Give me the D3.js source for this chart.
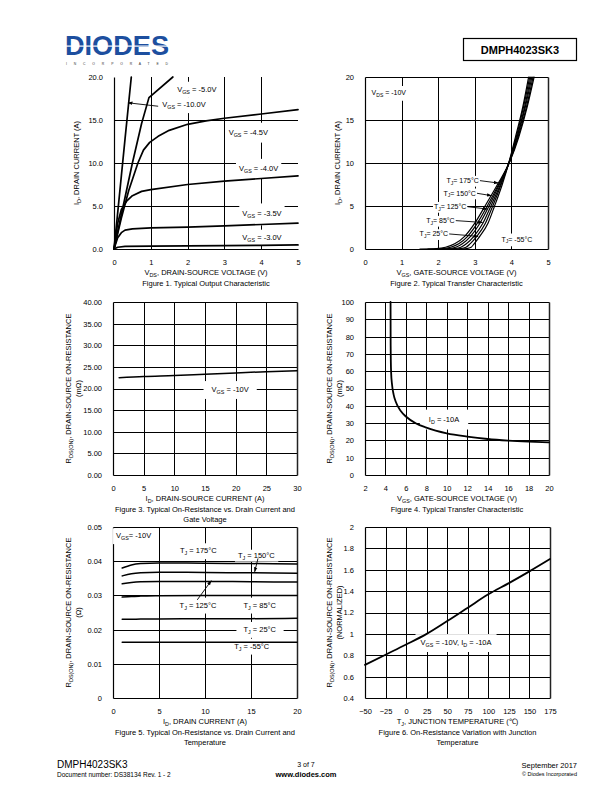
<!DOCTYPE html>
<html><head><meta charset="utf-8">
<script src="https://cdn.jsdelivr.net/npm/d3@7"></script>
<style>body{margin:0;background:#fff}svg{display:block}</style>
</head><body>
<script>
// ---------------- DATA ----------------
// Figure 1: Typical Output Characteristic  [VDS (V), ID (A)]
const fig1Vgs10 = [[0,0],[0.1,4.2],[0.2,8.5],[0.3,12.8],[0.47,20]];
const fig1Vgs50 = [[0,0],[0.25,5],[0.5,10],[0.75,14.6],[0.95,17.6],[1.6,20]];
const fig1Vgs45 = [[0,0],[0.2,3.6],[0.4,6.8],[0.65,10],[0.8,11.5],[0.97,12.4],[1.2,13.1],[1.5,13.8],[2,14.5],[2.5,14.9],[3,15.2],[4,15.7],[5,16.2]];
const fig1Vgs40 = [[0,0],[0.1,3],[0.2,4.6],[0.35,5.6],[0.5,6.2],[0.75,6.7],[1,6.9],[2,7.5],[3,7.9],[4,8.2],[5,8.5]];
const fig1Vgs35 = [[0,0],[0.1,1.3],[0.2,1.9],[0.3,2.2],[0.5,2.35],[1,2.45],[2,2.55],[3,2.7],[4,2.85],[5,3.0]];
const fig1Vgs30 = [[0,0],[0.1,0.2],[0.3,0.3],[1,0.33],[2,0.37],[3,0.4],[4,0.43],[5,0.47]];

// Figure 2: Typical Transfer Characteristic  ID levels (A) and VGS (V) per temperature
const fig2Id    = [0, 0.05, 0.2, 0.6, 1.5, 3, 5, 7.5, 10.2, 13, 16.5, 20];
const fig2T175  = [1.50, 1.95, 2.20, 2.45, 2.73, 3.00, 3.28, 3.62, 3.960, 4.20, 4.43, 4.62];
const fig2T150  = [1.72, 2.12, 2.34, 2.56, 2.81, 3.07, 3.34, 3.65, 3.955, 4.18, 4.41, 4.59];
const fig2T125  = [1.94, 2.28, 2.48, 2.66, 2.89, 3.14, 3.39, 3.67, 3.950, 4.16, 4.38, 4.56];
const fig2T85   = [2.16, 2.45, 2.62, 2.77, 2.98, 3.22, 3.44, 3.70, 3.950, 4.15, 4.36, 4.53];
const fig2T25   = [2.38, 2.61, 2.76, 2.87, 3.06, 3.29, 3.49, 3.72, 3.945, 4.13, 4.33, 4.50];
const fig2Tm55  = [2.60, 2.78, 2.90, 2.98, 3.14, 3.36, 3.54, 3.75, 3.940, 4.11, 4.31, 4.47];

// Figure 3: RDS(ON) (mOhm) vs ID (A)
const fig3Id   = [1, 5, 10, 15, 20, 25, 30];
const fig3Rds  = [22.5, 22.8, 23.0, 23.3, 23.6, 23.9, 24.1];

// Figure 4: RDS(ON) (mOhm) vs VGS (V)
const fig4Vgs  = [4.5, 4.51, 4.55, 4.65, 4.8, 5, 5.5, 6, 7, 8, 10, 12, 14, 16, 18, 20];
const fig4Rds  = [100, 75, 60, 52, 46.5, 42.5, 37, 33.8, 29.8, 27.4, 24.1, 22.2, 20.8, 19.9, 19.3, 18.9];

// Figure 5: RDS(ON) (Ohm) vs ID (A) per temperature
const fig5Id    = [1, 2, 3, 5, 10, 15, 20];
const fig5T175  = [0.0380, 0.0389, 0.0393, 0.0395, 0.0394, 0.0393, 0.0392];
const fig5T150  = [0.0357, 0.0363, 0.0366, 0.0368, 0.0367, 0.0366, 0.0365];
const fig5T125  = [0.0334, 0.0338, 0.0340, 0.0341, 0.0341, 0.0340, 0.0339];
const fig5T85   = [0.0295, 0.0297, 0.0298, 0.0299, 0.0300, 0.0300, 0.0300];
const fig5T25   = [0.0230, 0.0230, 0.0231, 0.0231, 0.0232, 0.0232, 0.0233];
const fig5Tm55  = [0.0163, 0.0163, 0.0163, 0.0163, 0.0163, 0.0163, 0.0163];

// Figure 6: normalized RDS(ON) vs TJ
const fig6Tj   = [-50, -25, 0, 25, 50, 75, 100, 125, 150, 175];
const fig6Rn   = [0.71, 0.805, 0.90, 1.0, 1.12, 1.245, 1.37, 1.475, 1.585, 1.70];

// Tick values
const fig1XTicks = [0,1,2,3,4,5],  fig1YTicks = [0,5,10,15,20];
const fig2XTicks = [0,1,2,3,4,5],  fig2YTicks = [0,5,10,15,20];
const fig3XTicks = [0,5,10,15,20,25,30], fig3YTicks = [0,5,10,15,20,25,30,35,40];
const fig4XTicks = [2,4,6,8,10,12,14,16,18,20], fig4YTicks = [0,10,20,30,40,50,60,70,80,90,100];
const fig5XTicks = [0,5,10,15,20], fig5YTicks = [0,0.01,0.02,0.03,0.04,0.05];
const fig6XTicks = [-50,-25,0,25,50,75,100,125,150,175], fig6YTicks = [0.4,0.6,0.8,1,1.2,1.4,1.6,1.8,2];

// ---------------- DRAWING ----------------
const FONT = '"Liberation Sans", Arial, Helvetica, sans-serif';
const svg = d3.select('body').append('svg').attr('width',612).attr('height',792);
svg.append('rect').attr('width',612).attr('height',792).attr('fill','#fff');
svg.append('defs').append('marker').attr('id','arr').attr('viewBox','0 0 10 10')
  .attr('refX',9).attr('refY',5).attr('markerWidth',5).attr('markerHeight',5)
  .attr('markerUnits','userSpaceOnUse').attr('orient','auto')
  .append('path').attr('d','M0,1.5L10,5L0,8.5Z').attr('fill','#000');

function rich(text, str, fs){
  const parts = str.split(/(_\{[^}]*\})/);
  let shifted = false;
  parts.forEach(p=>{
    if(!p) return;
    const m = p.match(/^_\{(.*)\}$/);
    if(m){
      text.append('tspan').attr('font-size',fs*0.72).attr('dy',fs*0.25).text(m[1]);
      shifted = true;
    } else {
      const t = text.append('tspan').text(p);
      if(shifted){ t.attr('dy',-fs*0.25); shifted=false; }
    }
  });
  return text;
}

function chart(o){
  const x = d3.scaleLinear().domain(o.xd).range([o.x0,o.x1]);
  const y = d3.scaleLinear().domain(o.yd).range([o.yBot,o.yTop]);
  const px = v => Math.round(x(v))+0.5, py = v => Math.round(y(v))+0.5;
  const g = svg.append('g');
  const gGrid = g.append('g'), gBox = g.append('g'), gCurve = g.append('g'), gText = g.append('g');
  const fs = o.fs || 7.5;
  // grid
  gGrid.selectAll('line.v').data(o.xTicks.filter(t=>t>o.xd[0]&&t<o.xd[1])).join('line')
    .attr('x1',px).attr('x2',px).attr('y1',o.yBot).attr('y2',o.yTop).attr('stroke','#000').attr('stroke-width',1);
  gGrid.selectAll('line.h').data(o.yTicks.filter(t=>t>o.yd[0]&&t<o.yd[1])).join('line')
    .attr('y1',py).attr('y2',py).attr('x1',o.x0).attr('x2',o.x1).attr('stroke','#000').attr('stroke-width',1);
  // frame
  const L = px(o.xd[0]), R = px(o.xd[1]), B = py(o.yd[0]), T = py(o.yd[1]);
  gGrid.append('line').attr('x1',L).attr('x2',L).attr('y1',B).attr('y2',T).attr('stroke','#000').attr('stroke-width',1.2);
  gGrid.append('line').attr('x1',L).attr('x2',R).attr('y1',B).attr('y2',B).attr('stroke','#000').attr('stroke-width',1.2);
  if(o.box){
    gGrid.append('line').attr('x1',L).attr('x2',R).attr('y1',T).attr('y2',T).attr('stroke','#000').attr('stroke-width',1.2);
    gGrid.append('line').attr('x1',R).attr('x2',R).attr('y1',B).attr('y2',T).attr('stroke','#222').attr('stroke-width',1.5);
  }
  // axes
  const ax = g.append('g').attr('transform',`translate(0,${o.yBot})`)
    .call(d3.axisBottom(x).tickValues(o.xTicks).tickSize(0).tickPadding(10.4).tickFormat(o.xf));
  ax.select('.domain').remove();
  ax.selectAll('text').attr('font-size',fs).attr('font-family',FONT).attr('fill','#000');
  const ay = g.append('g').attr('transform',`translate(${o.x0},0)`)
    .call(d3.axisLeft(y).tickValues(o.yTicks).tickSize(0).tickPadding(11).tickFormat(o.yf));
  ay.select('.domain').remove();
  ay.selectAll('text').attr('font-size',fs).attr('font-family',FONT).attr('fill','#000');
  // titles
  const cx = (o.x0+o.x1)/2, cy = (o.yBot+o.yTop)/2;
  rich(g.append('text').attr('x',cx).attr('y',o.yBot+25.7).attr('text-anchor','middle')
    .attr('font-family',FONT).attr('font-size',fs), o.xTitle, fs);
  o.caption.forEach((c,i)=>{
    g.append('text').attr('x',cx).attr('y',o.yBot+36.7+i*10).attr('text-anchor','middle')
      .attr('font-family',FONT).attr('font-size',fs).text(c);
  });
  o.yTitles.forEach(t=>{
    rich(g.append('text').attr('transform',`translate(${t.x+2.7},${cy}) rotate(-90)`).attr('text-anchor','middle')
      .attr('font-family',FONT).attr('font-size',t.fs||fs), t.s, t.fs||fs);
  });
  // curves
  const line = d3.line().x(d=>x(d[0])).y(d=>y(d[1])).curve(o.curve || d3.curveMonotoneX);
  o.series.forEach(s=>{
    gCurve.append('path').attr('d',line(s)).attr('fill','none').attr('stroke','#000')
      .attr('stroke-width',o.sw||1.6).attr('stroke-linejoin','round').attr('stroke-linecap','round');
  });
  // labels
  const lfs = o.lfs || fs;
  (o.labels||[]).forEach(l=>{
    const t = gText.append('text').attr('x',x(l.x)).attr('y',y(l.y)+lfs*0.36)
      .attr('text-anchor',l.anchor||'middle').attr('font-family',FONT).attr('font-size',lfs);
    rich(t, l.s, lfs);
    const bb = t.node().getBBox();
    const padX = l.padX!=null ? l.padX : 3, padY = l.padY!=null ? l.padY : 3;
    gBox.append('rect').attr('x',bb.x-padX).attr('y',bb.y-padY)
      .attr('width',bb.width+2*padX).attr('height',bb.height+2*padY).attr('fill','#fff');
    if(l.arrow){
      gText.append('line').attr('x1',x(l.arrow[0])).attr('y1',y(l.arrow[1]))
        .attr('x2',x(l.arrow[2])).attr('y2',y(l.arrow[3]))
        .attr('stroke','#000').attr('stroke-width',0.9).attr('marker-end','url(#arr)');
    }
  });
}

const zip = (a,b)=>a.map((v,i)=>[v,b[i]]);

// Figure 1
chart({x0:114,x1:298,yBot:249,yTop:77,xd:[0,5],yd:[0,20],xTicks:fig1XTicks,yTicks:fig1YTicks,
  xf:d3.format('d'), yf:d3.format('.1f'), box:false, curve:d3.curveLinear, sw:1.7,
  xTitle:'V_{DS}, DRAIN-SOURCE VOLTAGE (V)', caption:['Figure 1. Typical Output Characteristic'],
  yTitles:[{x:76,s:'I_{D}, DRAIN CURRENT (A)'}],
  series:[fig1Vgs10,fig1Vgs50,fig1Vgs45,fig1Vgs40,fig1Vgs35,fig1Vgs30],
  labels:[
    {x:2.25,y:18.6,s:'V_{GS} = -5.0V'},
    {x:1.9,y:16.8,s:'V_{GS} = -10.0V',arrow:[1.2,16.6,0.38,17.0]},
    {x:3.65,y:13.6,s:'V_{GS} = -4.5V',padY:5},
    {x:3.93,y:9.4,s:'V_{GS} = -4.0V',padY:5},
    {x:4.02,y:4.1,s:'V_{GS} = -3.5V',padY:6},
    {x:4.02,y:1.4,s:'V_{GS} = -3.0V'}
  ]});

// Figure 2
chart({x0:365,x1:548,yBot:249,yTop:77,xd:[0,5],yd:[0,20],xTicks:fig2XTicks,yTicks:fig2YTicks,
  xf:d3.format('d'), yf:d3.format('d'), box:true, sw:1.2, lfs:7,
  xTitle:'V_{GS}, GATE-SOURCE VOLTAGE (V)', caption:['Figure 2. Typical Transfer Characteristic'],
  yTitles:[{x:337,s:'I_{D}, DRAIN CURRENT (A)'}],
  series:[fig2T175,fig2T150,fig2T125,fig2T85,fig2T25,fig2Tm55].map(v=>zip(v,fig2Id)),
  labels:[
    {x:0.18,y:18.2,s:'V_{DS} = -10V',anchor:'start'},
    {x:3.11,y:7.98,s:'T_{J}= 175°C',anchor:'end',padX:1,padY:1,arrow:[3.14,7.95,3.64,7.67]},
    {x:3.03,y:6.51,s:'T_{J}= 150°C',anchor:'end',padX:1,padY:1,arrow:[3.06,6.48,3.455,6.2]},
    {x:2.77,y:4.95,s:'T_{J}= 125°C',anchor:'end',padX:1,padY:1,arrow:[2.80,4.92,3.335,4.65]},
    {x:2.45,y:3.33,s:'T_{J}= 85°C',anchor:'end',padX:1,padY:1,arrow:[2.48,3.3,3.21,3.09]},
    {x:2.27,y:1.78,s:'T_{J}= 25°C',anchor:'end',padX:1,padY:1,arrow:[2.30,1.75,3.09,1.47]},
    {x:3.73,y:1.16,s:'T_{J}= -55°C',anchor:'start',padX:2,padY:2}
  ]});

// Figure 3
chart({x0:113,x1:297,yBot:475,yTop:302,xd:[0,30],yd:[0,40],xTicks:fig3XTicks,yTicks:fig3YTicks,
  xf:d3.format('d'), yf:d3.format('.2f'), box:true, sw:1.5,
  xTitle:'I_{D}, DRAIN-SOURCE CURRENT (A)', caption:['Figure 3. Typical On-Resistance vs. Drain Current and','Gate Voltage'],
  yTitles:[{x:68,s:'R_{DS(ON)}, DRAIN-SOURCE ON-RESISTANCE'},{x:78,s:'(mΩ)'}],
  series:[zip(fig3Id,fig3Rds)],
  labels:[{x:19.1,y:19.8,s:'V_{GS} = -10V',padX:8,padY:4}]});

// Figure 4
chart({x0:365,x1:549,yBot:475,yTop:302,xd:[2,20],yd:[0,100],xTicks:fig4XTicks,yTicks:fig4YTicks,
  xf:d3.format('d'), yf:d3.format('d'), box:true, sw:1.8,
  xTitle:'V_{GS}, GATE-SOURCE VOLTAGE (V)', caption:['Figure 4. Typical Transfer Characteristic'],
  yTitles:[{x:329,s:'R_{DS(ON)}, DRAIN-SOURCE ON-RESISTANCE'},{x:339,s:'(mΩ)'}],
  series:[zip(fig4Vgs,fig4Rds)],
  labels:[{x:9.73,y:32.4,s:'I_{D} = -10A',padX:9,padY:5}]});

// Figure 5
chart({x0:113,x1:297,yBot:698,yTop:527,xd:[0,20],yd:[0,0.05],xTicks:fig5XTicks,yTicks:fig5YTicks,
  xf:d3.format('d'), yf:d=>d===0?'0':d3.format('.2f')(d), box:true, sw:1.5,
  xTitle:'I_{D}, DRAIN CURRENT (A)', caption:['Figure 5. Typical On-Resistance vs. Drain Current and','Temperature'],
  yTitles:[{x:68,s:'R_{DS(ON)},  DRAIN-SOURCE ON-RESISTANCE'},{x:78,s:'(Ω)'}],
  series:[fig5T175,fig5T150,fig5T125,fig5T85,fig5T25,fig5Tm55].map(v=>zip(fig5Id,v)),
  labels:[
    {x:0.33,y:0.0475,s:'V_{GS}= -10V',anchor:'start',padX:3,padY:3},
    {x:9.27,y:0.0431,s:'T_{J} = 175°C',padX:4,padY:3},
    {x:15.58,y:0.0418,s:'T_{J} = 150°C',padX:3,padY:1,arrow:[15.76,0.0408,15.4,0.0369]},
    {x:9.24,y:0.0272,s:'T_{J} = 125°C',padX:4,padY:3,arrow:[9.16,0.0287,10.68,0.0343]},
    {x:15.95,y:0.0272,s:'T_{J} = 85°C',padX:4,padY:3},
    {x:15.95,y:0.0201,s:'T_{J} = 25°C',padX:7,padY:3},
    {x:15.08,y:0.0152,s:'T_{J} = -55°C',padX:4,padY:3}
  ]});

// Figure 6
chart({x0:365,x1:550,yBot:698,yTop:527,xd:[-50,175],yd:[0.4,2],xTicks:fig6XTicks,yTicks:fig6YTicks,
  xf:d3.format('d'), yf:d3.format(''), box:true, sw:1.8,
  xTitle:'T_{J}, JUNCTION TEMPERATURE (℃)', caption:['Figure 6. On-Resistance Variation with Junction','Temperature'],
  yTitles:[{x:329,s:'R_{DS(ON)}, DRAIN-SOURCE ON-RESISTANCE'},{x:339,s:'(NORMALIZED)'}],
  series:[zip(fig6Tj,fig6Rn)],
  labels:[{x:60.7,y:0.92,s:'V_{GS} = -10V, I_{D} = -10A',padX:5,padY:4}]});

// ---------------- HEADER ----------------
const hdr = svg.append('g');
hdr.append('text').attr('x',65).attr('y',55).attr('font-family',FONT).attr('font-weight','bold')
  .attr('font-size',28).attr('fill','#1d4f9f').attr('textLength',104).attr('lengthAdjust','spacingAndGlyphs')
  .text('DIODES');
hdr.append('rect').attr('x',64).attr('y',45.5).attr('width',108).attr('height',1.2).attr('fill','#fff');
hdr.append('text').attr('x',66).attr('y',64.5).attr('font-family',FONT).attr('font-size',3.4)
  .attr('fill','#333').attr('textLength',102).attr('lengthAdjust','spacing').text('I N C O R P O R A T E D');
hdr.append('rect').attr('x',463.5).attr('y',38.5).attr('width',113).attr('height',22)
  .attr('fill','none').attr('stroke','#000').attr('stroke-width',1.2);
hdr.append('text').attr('x',520).attr('y',53.5).attr('text-anchor','middle').attr('font-family',FONT)
  .attr('font-weight','bold').attr('font-size',11).text('DMPH4023SK3');

// ---------------- FOOTER ----------------
const ft = svg.append('g').attr('font-family',FONT);
ft.append('text').attr('x',57).attr('y',768).attr('font-size',10).text('DMPH4023SK3');
ft.append('text').attr('x',57).attr('y',777).attr('font-size',6.5).text('Document number: DS38134  Rev. 1 - 2');
ft.append('text').attr('x',306).attr('y',767).attr('text-anchor','middle').attr('font-size',7).text('3 of 7');
ft.append('text').attr('x',306).attr('y',776.5).attr('text-anchor','middle').attr('font-size',7.5).attr('font-weight','bold').text('www.diodes.com');
ft.append('text').attr('x',577).attr('y',767.5).attr('text-anchor','end').attr('font-size',7.5).text('September 2017');
ft.append('text').attr('x',577).attr('y',775.5).attr('text-anchor','end').attr('font-size',5.5).text('© Diodes Incorporated');
</script>
</body></html>
